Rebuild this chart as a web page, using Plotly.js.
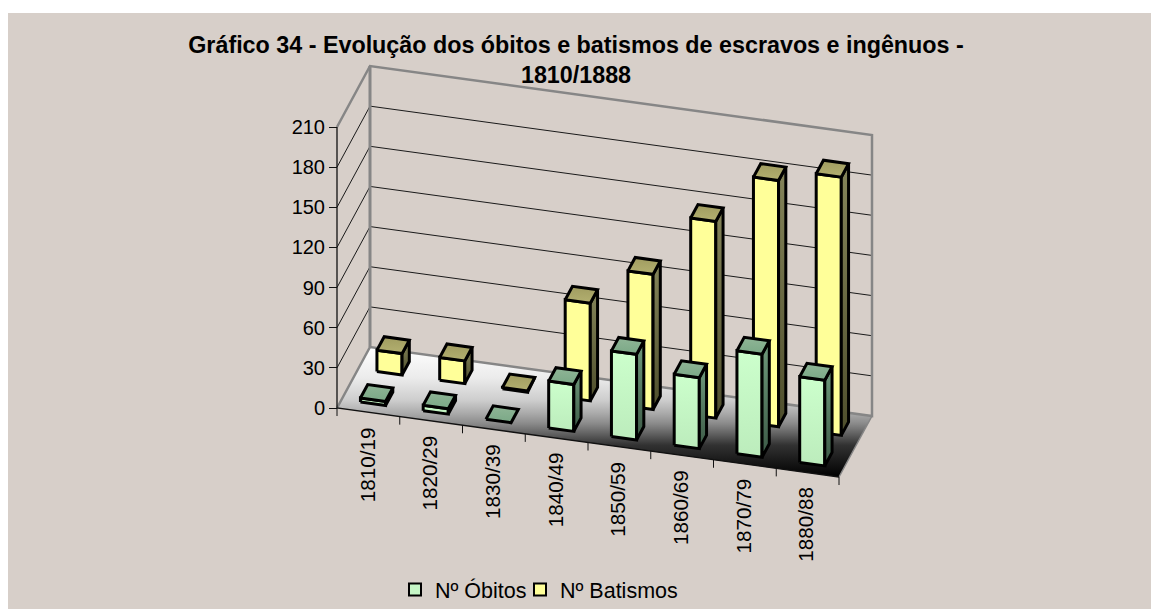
<!DOCTYPE html>
<html><head><meta charset="utf-8">
<script src="https://cdn.plot.ly/plotly-3.0.1.min.js"></script>
<style>html,body{margin:0;padding:0;background:#fff}</style>
</head><body><div id="chart" style="width:1151px;height:609px"></div>
<script>
const categories = ["1810/19","1820/29","1830/39","1840/49","1850/59","1860/69","1870/79","1880/88"];
const obitos = [3,4,0,35,64,53,77,64];
const batismos = [16,17,1,73,101,147,184,193];
const yTicks = [0,30,60,90,120,150,180,210];
const chartTitle = "Gráfico 34 - Evolução dos óbitos e batismos de escravos e ingênuos -<br>1810/1888";

// oblique projection of (category, depth, value) into the axes' units
const PXC = 62.75, PXV = 281/210;
const SKEW_X = 33/PXC, SKEW_Y_C = 8.625/PXV, SKEW_Y_D = 61/PXV;
const px = (c,d) => c + d*SKEW_X;
const py = (c,d,v) => v - c*SKEW_Y_C + d*SKEW_Y_D;
const pts = list => ({x:list.map(p=>p?px(p[0],p[1]):null), y:list.map(p=>p?py(p[0],p[1],p[2]):null)});

const L=8,R=1151,T=13,B=609,W=1151,H=609,ORGX=337,ORGY=408;
const traces=[];
function line(list,color,width){const p=pts(list);traces.push({type:'scatter',mode:'lines',x:p.x,y:p.y,line:{color,width,simplify:false},hoverinfo:'skip',showlegend:false});}
function face(list,c0,c1,width){const p=pts(list);
  const t={type:'scatter',mode:'lines',x:p.x,y:p.y,fill:'toself',line:{color:'#000',width:width},hoverinfo:'skip',showlegend:false};
  if(c0===c1)t.fillcolor=c0; else t.fillgradient={type:'vertical',colorscale:[[0,c0],[1,c1]]};
  traces.push(t);}
const N=categories.length;
// floor
const fp=pts([[0,0,0],[N,0,0],[N,1,0],[0,1,0],[0,0,0]]);
const grey=g=>`rgb(${g},${g},${g})`;
traces.push({type:'scatter',mode:'lines',x:fp.x,y:fp.y,fill:'toself',line:{width:0},
  fillgradient:{type:'vertical',colorscale:[[0,grey(0)],[0.246,grey(50)],[0.338,grey(100)],[0.415,grey(140)],[0.49,grey(170)],[0.59,grey(205)],[0.76,grey(235)],[1,grey(255)]]},hoverinfo:'skip',showlegend:false});
// gridlines
const grid=[];yTicks.slice(1,-1).forEach(v=>{grid.push([0,0,v],[0,1,v],[N,1,v],null);});
line(grid,'#1a1a1a',1);
// frame
const maxV=yTicks[yTicks.length-1];
line([[0,0,maxV],[0,1,maxV],[N,1,maxV],[N,1,0],[0,1,0],[0,0,0]],'#868686',2.5);
line([[0,1,0],[0,1,maxV]],'#868686',3);
line([[N,1,0],[N,0,0]],'#868686',1.5);
// axis lines
line([[0,0,maxV],[0,0,0],[N,0,0]],'#111',1.3);
// category ticks
const tk=[];for(let i=0;i<=N;i++){tk.push([i,0,0],[i,0,-6],null);}
line(tk,'#111',1);

const BW=0.2, D0=0.14, D1=0.36, DS=0.5, OUT=3;
function bar(i,v,dOff,col){
  const a=i+0.5-BW,b=i+0.5+BW,d0=D0+dOff,d1=D1+dOff;
  if(v>0){
    face([[a,d0,0],[b,d0,0],[b,d0,v],[a,d0,v],[a,d0,0]],col.f0,col.f1,OUT);
    face([[b,d0,0],[b,d1,0],[b,d1,v],[b,d0,v],[b,d0,0]],col.s0,col.s1,OUT);
  }
  face([[a,d0,v],[b,d0,v],[b,d1,v],[a,d1,v],[a,d0,v]],col.t0,col.t1,OUT);
}
const GREEN={f0:'#bcecbc',f1:'#ccffcc',s0:'#3c5a46',s1:'#6f9a7c',t0:'#7aa886',t1:'#8fb596'};
const YELLOW={f0:'#ffff99',f1:'#ffff99',s0:'#4e4e2c',s1:'#85855a',t0:'#b3b070',t1:'#a09c60'};
batismos.forEach((v,i)=>bar(i,v,DS,YELLOW));
obitos.forEach((v,i)=>bar(i,v,0,GREEN));
// legend entries
traces.push({type:'bar',name:'Nº Óbitos',legend:'legend',x:[0],y:[null],marker:{color:'#c6f6c6',line:{color:'#000',width:2}},hoverinfo:'skip'});
traces.push({type:'bar',name:'Nº Batismos',legend:'legend2',x:[0],y:[null],marker:{color:'#ffff99',line:{color:'#000',width:2}},hoverinfo:'skip'});

const annotations=categories.map((t,i)=>({text:t,xref:'x',yref:'y',x:px(i+0.5,0),y:py(i+0.5,0,0),
  xanchor:'center',yanchor:'top',yshift:-12.5,xshift:-1.5,textangle:-90,showarrow:false,font:{family:'Liberation Sans, Arial',size:20.7,color:'#000'}}));

const legendBase={orientation:'h',xanchor:'left',y:1-(569-13)/(H-13),yanchor:'top',bgcolor:'rgba(0,0,0,0)',font:{family:'Liberation Sans, Arial',size:21.5,color:'#000'},itemclick:false,itemdoubleclick:false};
const layout={
  width:W,height:H,paper_bgcolor:'#ffffff',plot_bgcolor:'#d7cfc9',
  margin:{l:L,r:W-R,t:T,b:H-B,pad:0,autoexpand:false},showlegend:true,
  font:{family:'Liberation Sans, Arial',color:'#000'},
  title:{text:chartTitle,font:{family:'Liberation Sans, Arial',size:23.3,weight:700,color:'#000'},x:576/W,xanchor:'center',y:1-53/H,yanchor:'top'},
  xaxis:{range:[(L-ORGX)/PXC,(R-ORGX)/PXC],visible:false,fixedrange:true},
  yaxis:{range:[(ORGY-B)/PXV,(ORGY-T)/PXV],anchor:'free',position:(ORGX-L)/(R-L),tickvals:yTicks,ticktext:yTicks.map(String),
    ticks:'outside',ticklen:8,tickwidth:1,tickcolor:'#111',showgrid:false,zeroline:false,showline:false,
    tickfont:{family:'Liberation Sans, Arial',size:20,color:'#000'},fixedrange:true},
  legend:Object.assign({x:(395-8)/(R-L)},legendBase),
  legend2:Object.assign({x:(520-8)/(R-L)},legendBase),
  annotations
};
Plotly.newPlot('chart',traces,layout,{displayModeBar:false,staticPlot:true});
</script></body></html>
